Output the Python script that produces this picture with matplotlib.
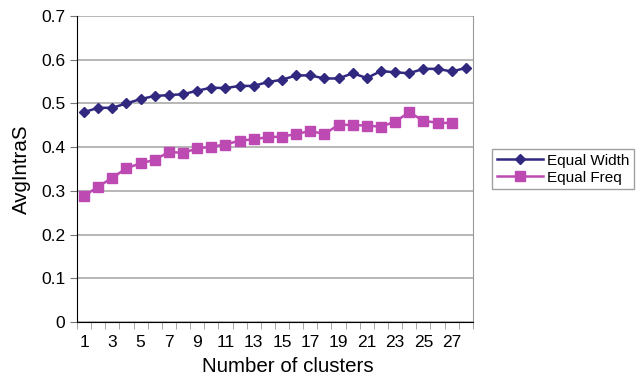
import matplotlib
matplotlib.use("Agg")
import matplotlib.pyplot as plt
import numpy as np

plt.rcParams["font.family"] = ["Liberation Sans", "DejaVu Sans"]

# data
clusters = list(range(1, 29))
equal_width = [0.480, 0.490, 0.490, 0.500, 0.510, 0.517, 0.519, 0.521, 0.529, 0.536,
               0.535, 0.540, 0.540, 0.549, 0.554, 0.564, 0.564, 0.557, 0.557, 0.569,
               0.558, 0.574, 0.571, 0.569, 0.579, 0.579, 0.573, 0.581]
equal_freq = [0.288, 0.310, 0.330, 0.352, 0.363, 0.371, 0.389, 0.387, 0.397, 0.401,
              0.406, 0.415, 0.418, 0.423, 0.424, 0.430, 0.437, 0.430, 0.451, 0.451,
              0.449, 0.447, 0.458, 0.480, 0.460, 0.456, 0.455]
tick_labels = [str(c) for c in clusters if c % 2 == 1]

blue = "#31287F"
pink = "#BC4AB2"

fig = plt.figure(figsize=(6.39, 3.79), dpi=100)
ax = fig.add_axes([0.1205, 0.150, 0.6195, 0.808])

ax.plot(clusters, equal_width, color=blue, marker="D", markersize=5.5, lw=1.8,
        label="Equal Width")
ax.plot(clusters[:len(equal_freq)], equal_freq, color=pink, marker="s", markersize=7,
        lw=1.8, label="Equal Freq")

ax.set_xlim(0.5, 28.5)
ax.set_ylim(0, 0.7)
ax.set_yticks(np.arange(0, 0.71, 0.1))
ax.set_yticklabels(["0", "0.1", "0.2", "0.3", "0.4", "0.5", "0.6", "0.7"])
ax.set_xticks([c for c in clusters if c % 2 == 1])
ax.set_xticklabels(tick_labels)
ax.set_xticks(np.arange(0.5, 28.6, 1), minor=True)
ax.tick_params(axis="x", which="major", length=0, labelsize=12.5, pad=9)
ax.tick_params(axis="x", which="minor", length=5, color="#999999", direction="out")
ax.tick_params(axis="y", labelsize=12.5, length=5, color="#777777", direction="out")

ax.grid(axis="y", color="#AAAAAA", lw=1.2)
ax.set_axisbelow(True)
ax.spines["top"].set_visible(False)
ax.spines["right"].set_color("#999999")
ax.spines["left"].set_color("black")
ax.spines["bottom"].set_color("black")

ax.set_xlabel("Number of clusters", fontsize=14.8, labelpad=5)
ax.xaxis.set_label_coords(0.533, -0.115)
ax.set_ylabel("AvgIntraS", fontsize=14.8, labelpad=7)

leg = ax.legend(loc="center left", bbox_to_anchor=(1.03, 0.50), fontsize=11,
                frameon=True, fancybox=False, borderpad=0.3, handlelength=3,
                labelspacing=0.2, handletextpad=0.3)
leg.get_frame().set_edgecolor("#888888")
leg.get_frame().set_linewidth(1.0)

fig.savefig("out.png", dpi=100)
